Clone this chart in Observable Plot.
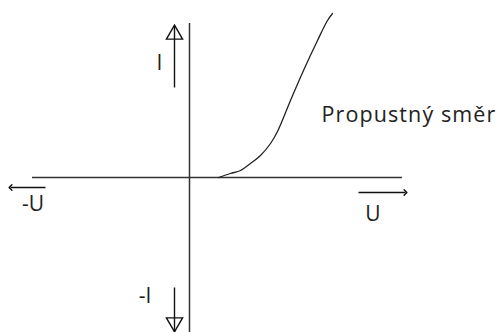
<!DOCTYPE html>
<html>
<head>
<meta charset="utf-8">
<script src="https://cdn.jsdelivr.net/npm/d3@7"></script>
<script src="https://cdn.jsdelivr.net/npm/@observablehq/plot@0.6"></script>
<style>
  html, body { margin: 0; padding: 0; background: #fff; }
  svg { display: block; }
</style>
</head>
<body>
<div id="chart"></div>
<script>
// Forward characteristic (U, I)
const curveU = [29, 41, 51, 61, 71, 81, 88, 101, 114, 128, 138, 143];
const curveI = [0, 4, 7, 14, 22, 34, 46, 77, 107, 137, 157, 164];

// Axis extents
const axisU = [-157, 213];
const axisI = [-156, 154];

// Direction arrows
const arrowNames = ["U", "-U"];
const arrowU1 = [169, -144];
const arrowU2 = [216, -179];
const arrowI = [-15, -10];

const iArrowU = [-15, -15];
const iArrowFrom = [90, -110];
const iArrowTo = [152, -155];
const iHeadI = [143, -145];
const iHeadRotate = [0, 180];

// Labels
const labelText = ["I", "-I", "-U", "U"];
const labelU = [-30, -44.5, -156.5, 183.5];
const labelI = [114, -119, -26.5, -36.5];

const noteText = ["Propustný směr"];
const noteU = [132];
const noteI = [62];

const curve = curveU.map((u, k) => ({u, i: curveI[k]}));
const arrows = arrowNames.map((n, k) => ({n, u1: arrowU1[k], u2: arrowU2[k], i: arrowI[k]}));
const iArrows = iArrowU.map((u, k) => ({u, from: iArrowFrom[k], to: iArrowTo[k], head: iHeadI[k], rot: iHeadRotate[k]}));
const labels = labelText.map((t, k) => ({t, u: labelU[k], i: labelI[k]}));
const notes = noteText.map((t, k) => ({t, u: noteU[k], i: noteI[k]}));

const chart = Plot.plot({
  width: 502,
  height: 332,
  margin: 0,
  x: {domain: [-189, 313], axis: null},
  y: {domain: [-155, 177], axis: null},
  style: {fontFamily: "'Open Sans', sans-serif", background: "#fff"},
  marks: [
    Plot.ruleY([0], {x1: axisU[0], x2: axisU[1], stroke: "#333", strokeWidth: 1.5}),
    Plot.ruleX([0], {y1: axisI[0], y2: axisI[1], stroke: "#333", strokeWidth: 1.5}),
    Plot.line(curve, {x: "u", y: "i", curve: "catmull-rom", stroke: "#222", strokeWidth: 1.3}),
    Plot.link(arrows, {x1: "u1", x2: "u2", y1: "i", y2: "i", stroke: "#111", strokeWidth: 1.4, markerEnd: "arrow"}),
    Plot.link(iArrows, {x1: "u", x2: "u", y1: "from", y2: "to", stroke: "#111", strokeWidth: 1.4}),
    Plot.dot(iArrows, {x: "u", y: "head", symbol: "triangle", r: 6, rotate: "rot", fill: "none", stroke: "#111", strokeWidth: 1.4}),
    Plot.text(labels, {x: "u", y: "i", text: "t", fontSize: 21, fill: "#222"}),
    Plot.text(notes, {x: "u", y: "i", text: "t", fontSize: 21.5, fill: "#222", textAnchor: "start"})
  ]
});
const textGroups = chart.querySelectorAll('g[aria-label="text"]');
textGroups[textGroups.length - 1].style.letterSpacing = "1.1px";
document.getElementById("chart").append(chart);
</script>
</body>
</html>
